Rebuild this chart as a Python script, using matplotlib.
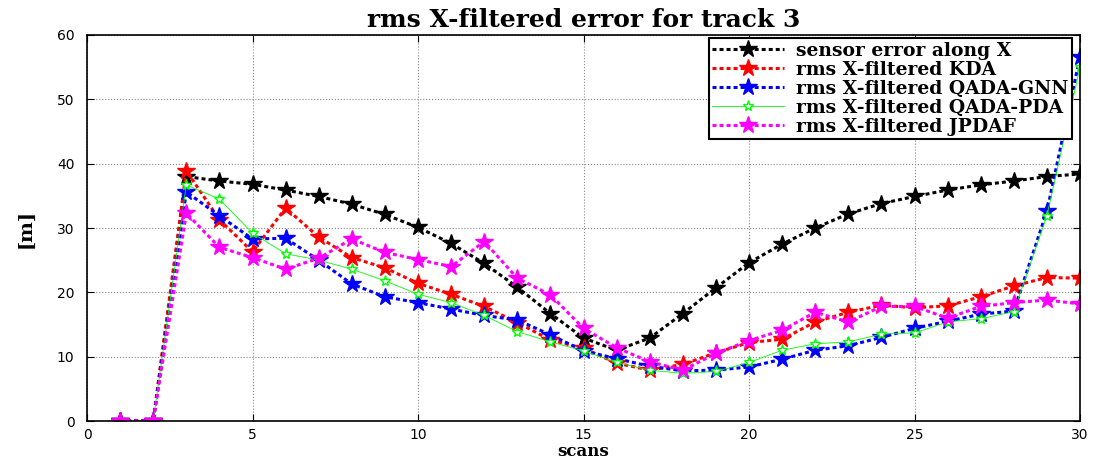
import matplotlib
matplotlib.use("Agg")
import matplotlib.pyplot as plt
import numpy as np

scans = list(range(1, 31))
sensor = [0, 0, 38.0, 37.3, 36.8, 35.9, 34.9, 33.7, 32.1, 30.1, 27.6, 24.5, 20.8, 16.7, 12.9,
          11.0, 12.9, 16.7, 20.7, 24.6, 27.5, 30.0, 32.2, 33.8, 34.9, 35.9, 36.7, 37.3, 38.0, 38.4]
kda = [0, 0, 38.9, 31.3, 26.3, 33.1, 28.6, 25.4, 23.8, 21.4, 19.7, 17.8, 15.3, 12.6, 11.3,
       9.0, 7.9, 8.8, 10.6, 12.2, 12.7, 15.4, 16.9, 18.0, 17.6, 17.9, 19.3, 21.0, 22.3, 22.2]
gnn = [0, 0, 35.6, 31.9, 28.3, 28.4, 25.0, 21.3, 19.3, 18.4, 17.4, 16.4, 15.7, 13.4, 10.9,
       9.7, 8.5, 7.8, 7.9, 8.4, 9.6, 11.0, 11.7, 13.0, 14.4, 15.5, 16.6, 17.1, 32.6, 56.6]
pda = [0, 0, 36.7, 34.5, 29.2, 26.0, 25.0, 23.6, 21.8, 19.7, 18.4, 16.4, 13.9, 12.3, 10.9,
       9.1, 7.9, 7.4, 7.7, 9.1, 11.0, 12.0, 12.3, 13.5, 13.7, 15.4, 15.9, 17.0, 31.9, 55.0]
jpdaf = [0, 0, 32.3, 27.0, 25.4, 23.6, 25.3, 28.3, 26.2, 25.1, 24.0, 27.9, 22.2, 19.6, 14.4,
         11.4, 9.2, 7.9, 10.5, 12.5, 14.1, 16.9, 15.4, 17.8, 17.8, 16.0, 17.8, 18.4, 18.8, 18.2]

labels = ["sensor error along X", "rms X-filtered KDA", "rms X-filtered QADA-GNN",
          "rms X-filtered QADA-PDA", "rms X-filtered JPDAF"]
xticks = [0, 5, 10, 15, 20, 25, 30]
yticks = [0, 10, 20, 30, 40, 50, 60]

W, H = 1102, 461
fig = plt.figure(figsize=(W / 100, H / 100), dpi=100)
L, R, T, B = 87, 1080, 35, 421
ax = fig.add_axes([L / W, 1 - B / H, (R - L) / W, (B - T) / H])

dot = (0, (1.3, 1.0))
ax.plot(scans, sensor, color="black", ls=dot, lw=2.2, marker="*", ms=13, label=labels[0])
ax.plot(scans, kda, color="red", ls=dot, lw=2.2, marker="*", ms=13, label=labels[1])
ax.plot(scans, gnn, color="blue", ls=dot, lw=2.2, marker="*", ms=13, label=labels[2])
ax.plot(scans, pda, color="#00ff00", ls="-", lw=0.6, marker="*", ms=8,
        mfc="white", mec="#00ff00", mew=1.0, label=labels[3])
ax.plot(scans, jpdaf, color="magenta", ls=dot, lw=2.2, marker="*", ms=13, label=labels[4])

ax.set_xlim(0, 30)
ax.set_ylim(0, 60)
ax.set_xticks(xticks)
ax.set_yticks(yticks)
ax.grid(True, color="#888888", ls=":", lw=0.8)
ax.tick_params(direction="in", top=True, right=True, length=5, labelsize=10)
ax.tick_params(axis="x", pad=5)
ax.tick_params(axis="y", pad=9)
for t in ax.get_xticklabels() + ax.get_yticklabels():
    t.set_fontfamily("DejaVu Sans")
for s in ax.spines.values():
    s.set_linewidth(1.2)

serif = "DejaVu Serif"
ax.set_title("rms X-filtered error for track 3", fontfamily=serif,
             fontweight="bold", fontsize=18, pad=6)
ax.set_xlabel("scans", fontfamily=serif, fontweight="bold", fontsize=12)
ax.xaxis.set_label_coords(0.5, (B - 443) / (B - T))
ax.set_ylabel("[m]", fontfamily=serif, fontweight="bold", fontsize=14)
ax.yaxis.set_label_coords((35 - L) / (R - L), 0.5)

leg = ax.legend(loc="upper right", bbox_to_anchor=((1072 - L) / (R - L), (B - 38) / (B - T)),
                prop={"family": serif, "weight": "bold", "size": 13.5},
                handlelength=3.8, frameon=True, fancybox=False, edgecolor="black",
                borderaxespad=0, labelspacing=0.05, handletextpad=0.65, borderpad=0.2,
                framealpha=1)
leg.get_frame().set_linewidth(1.5)

fig.savefig("out.png", dpi=100)
